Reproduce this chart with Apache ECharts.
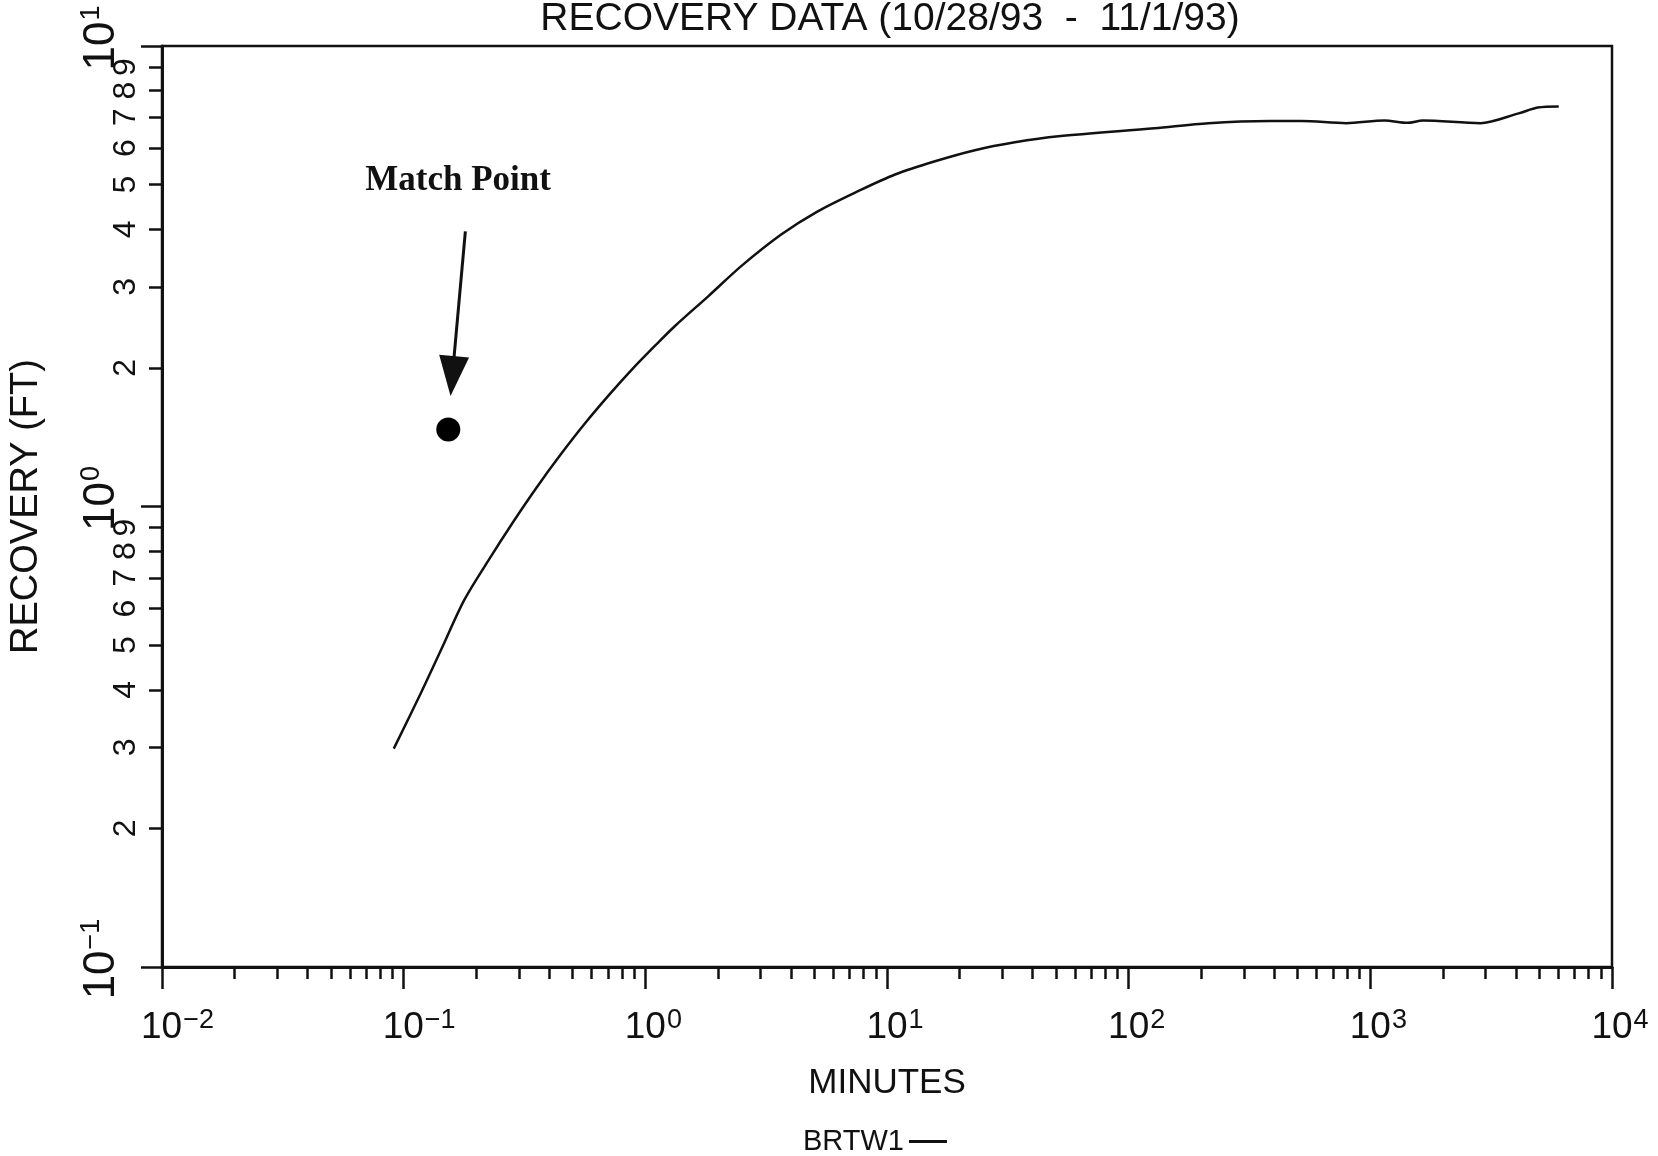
<!DOCTYPE html>
<html>
<head>
<meta charset="utf-8">
<title>Recovery Data</title>
<script src="https://cdn.jsdelivr.net/npm/echarts@6/dist/echarts.min.js"></script>
<style>
  html, body { margin: 0; padding: 0; background: #ffffff; }
  #chart { width: 1658px; height: 1156px; }
</style>
</head>
<body>
<div id="chart"></div>
<script>
// Recovery record for well BRTW1, 10/28/93 - 11/1/93 (elapsed minutes vs. recovery in feet)
const minutes = [0.091, 0.118, 0.143, 0.178, 0.224, 0.282, 0.355, 0.447, 0.562, 0.708,
                 0.891, 1.122, 1.32, 1.82, 2.50, 3.66, 5.19, 7.60, 10.8, 15.8,
                 23.1, 33.8, 51.2, 128, 214, 384, 520, 795, 1145, 1426,
                 1650, 2850, 4110, 4930, 6020];
const recovery = [0.298, 0.394, 0.489, 0.626, 0.763, 0.921, 1.100, 1.298, 1.514, 1.747,
                  1.997, 2.261, 2.46, 2.86, 3.33, 3.90, 4.38, 4.84, 5.26, 5.62,
                  5.94, 6.18, 6.37, 6.63, 6.80, 6.87, 6.87, 6.80, 6.89, 6.81,
                  6.89, 6.80, 7.14, 7.35, 7.39];

// Type-curve match point and its callout
const matchPoint = [0.153, 1.47];
const matchLabelAt = [0.168, 5.1];
const arrowFrom = [0.18, 3.96];
const arrowTo = [0.159, 1.92];

// Axis tick values
const xDecades = [0.01, 0.1, 1, 10, 100, 1000, 10000];
const yDecades = [0.1, 1, 10];
const mantissas = [2, 3, 4, 5, 6, 7, 8, 9];

const withinDecades = (decades) => {
  const out = [];
  for (let i = 0; i < decades.length - 1; i++) {
    mantissas.forEach(m => out.push(+(m * decades[i]).toPrecision(6)));
  }
  return out;
};
const xMinor = withinDecades(xDecades);
const yMinor = withinDecades(yDecades);

const INK = '#111111';
const FONT = "'Liberation Sans', Arial, sans-serif";

const expOf = v => Math.round(Math.log10(v));
const mantissaOf = v => Math.round(v / Math.pow(10, Math.floor(Math.log10(v) + 1e-9)));
const supText = v => {
  const e = expOf(v);
  return e < 0 ? '\u2212' + (-e) : String(e);
};

// X labels: a blank lead-in as wide as the exponent keeps "10" centred on its tick
const xPowerLabel = v => {
  const sup = supText(v);
  return '{p' + sup.length + '| }{b|10}{s|' + sup + '}';
};
// Y labels (rotated): plain "10" + raised exponent
const yPowerLabel = v => '{b|10}{s|' + supText(v) + '}';

const xRich = {
  p1: { width: 16, fontSize: 27, lineHeight: 42 },
  p2: { width: 31, fontSize: 27, lineHeight: 42 },
  b: { fontFamily: FONT, fontSize: 37, color: INK, lineHeight: 42 },
  s: { fontFamily: FONT, fontSize: 27, color: INK, lineHeight: 42, verticalAlign: 'top', padding: [0, 0, 13, 1] }
};
const yRich = {
  b: { fontFamily: FONT, fontSize: 44, color: INK, lineHeight: 48 },
  s: { fontFamily: FONT, fontSize: 27, color: INK, lineHeight: 48, verticalAlign: 'top', padding: [0, 0, 13, 1] }
};

const chart = echarts.init(document.getElementById('chart'), null, { renderer: 'canvas' });

chart.setOption({
  backgroundColor: '#ffffff',
  animation: false,
  title: {
    text: 'RECOVERY DATA (10/28/93  -  11/1/93)',
    left: 885,
    textAlign: 'center',
    top: -5,
    textStyle: { fontFamily: FONT, fontSize: 39, fontWeight: 'normal', color: INK }
  },
  legend: {
    data: [{ name: 'BRTW1', icon: 'rect' }],
    left: 798,
    top: 1122,
    align: 'right',
    itemWidth: 38,
    itemHeight: 3,
    itemGap: 8,
    textStyle: { fontFamily: FONT, fontSize: 29, color: INK }
  },
  grid: {
    left: 161,
    right: 46,
    top: 46,
    bottom: 189,
    show: true,
    borderColor: INK,
    borderWidth: 2.5,
    containLabel: false
  },
  xAxis: [
    {
      type: 'log',
      logBase: 10,
      min: 0.01,
      max: 10000,
      position: 'bottom',
      name: 'MINUTES',
      nameLocation: 'middle',
      nameGap: 99,
      nameTextStyle: { fontFamily: FONT, fontSize: 35, color: INK },
      axisLine: { show: true, lineStyle: { color: INK, width: 3 } },
      axisTick: { show: true, inside: false, customValues: xDecades, length: 22, lineStyle: { color: INK, width: 2.5 } },
      axisLabel: { show: true, customValues: xDecades, margin: 40, formatter: xPowerLabel, rich: xRich },
      splitLine: { show: false },
      minorTick: { show: false }
    },
    {
      type: 'log',
      logBase: 10,
      min: 0.01,
      max: 10000,
      position: 'bottom',
      axisLine: { show: false },
      axisTick: { show: true, inside: false, customValues: xMinor, length: 12, lineStyle: { color: INK, width: 2.5 } },
      axisLabel: { show: false },
      splitLine: { show: false }
    }
  ],
  yAxis: [
    {
      type: 'log',
      logBase: 10,
      min: 0.1,
      max: 10,
      position: 'left',
      name: 'RECOVERY (FT)',
      nameLocation: 'middle',
      nameGap: 116,
      nameRotate: 90,
      nameTextStyle: { fontFamily: FONT, fontSize: 38, color: INK },
      axisLine: { show: true, lineStyle: { color: INK, width: 3 } },
      axisTick: { show: true, inside: false, customValues: yMinor, length: 13, lineStyle: { color: INK, width: 2.5 } },
      axisLabel: {
        show: true, customValues: yMinor, rotate: 90, margin: 20,
        formatter: v => String(mantissaOf(v)),
        fontFamily: FONT, fontSize: 32, color: INK
      },
      splitLine: { show: false },
      minorTick: { show: false }
    },
    {
      type: 'log',
      logBase: 10,
      min: 0.1,
      max: 10,
      position: 'left',
      axisLine: { show: false },
      axisTick: { show: true, inside: false, customValues: yDecades, length: 21, lineStyle: { color: INK, width: 2.5 } },
      axisLabel: {
        show: true, customValues: yDecades, rotate: 90, margin: 36,
        padding: [0, 0, 0, 16],
        formatter: yPowerLabel, rich: yRich
      },
      splitLine: { show: false }
    }
  ],
  series: [
    {
      name: 'BRTW1',
      type: 'line',
      xAxisIndex: 0,
      yAxisIndex: 0,
      data: minutes.map((m, i) => [m, recovery[i]]),
      symbol: 'none',
      smooth: 0.3,
      lineStyle: { color: INK, width: 2.5 },
      itemStyle: { color: INK },
      silent: true
    },
    {
      name: 'Match Point',
      type: 'scatter',
      xAxisIndex: 0,
      yAxisIndex: 0,
      data: [matchPoint],
      symbol: 'circle',
      symbolSize: 24,
      itemStyle: { color: '#000000', opacity: 1 },
      silent: true,
      markLine: {
        silent: true,
        symbol: ['none', 'triangle'],
        symbolSize: [30, 40],
        label: { show: false },
        lineStyle: { color: INK, width: 3, type: 'solid', opacity: 1 },
        itemStyle: { color: INK },
        data: [[{ coord: arrowFrom }, { coord: arrowTo }]]
      },
      markPoint: {
        silent: true,
        symbol: 'circle',
        symbolSize: 0,
        data: [{ coord: matchLabelAt }],
        label: {
          show: true,
          position: 'inside',
          formatter: 'Match Point',
          fontFamily: "'Liberation Serif', 'Times New Roman', serif",
          fontWeight: 'bold',
          fontSize: 35,
          color: INK
        }
      }
    }
  ]
});
</script>
</body>
</html>
